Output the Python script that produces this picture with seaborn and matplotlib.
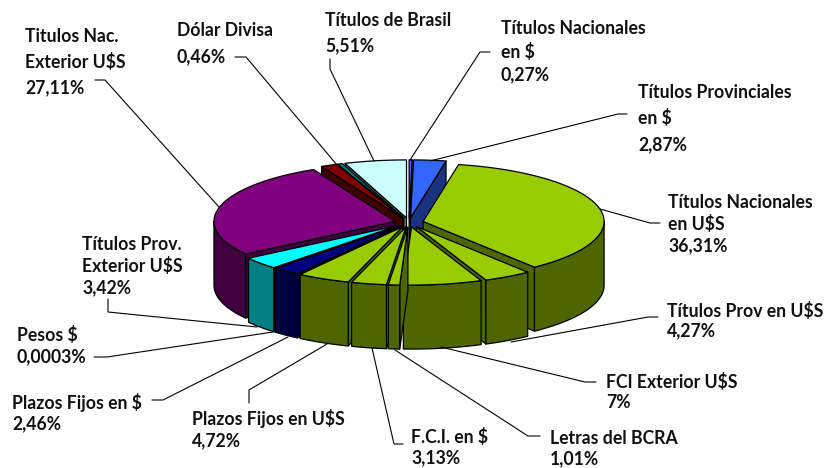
import numpy as np
import matplotlib
matplotlib.use("Agg")
import matplotlib.pyplot as plt
from matplotlib.patches import Polygon
import seaborn as sns

# ---- data (clockwise from 12 o'clock) ----
names = ["Títulos Nacionales\nen $\n0,27%", "Títulos Provinciales\nen $\n2,87%",
         "Títulos Nacionales\nen U$S\n36,31%", "Títulos Prov en U$S\n4,27%",
         "FCI Exterior U$S\n7%", "Letras del BCRA\n1,01%", "F.C.I. en $\n3,13%",
         "Plazos Fijos en U$S\n4,72%", "Plazos Fijos en $\n2,46%", "Pesos $\n0,0003%",
         "Títulos Prov.\nExterior U$S\n3,42%", "Titulos Nac.\nExterior U$S\n27,11%",
         "", "Dólar Divisa\n0,46%", "Títulos de Brasil\n5,51%"]
values = [0.27, 2.87, 36.31, 4.27, 7.0, 1.01, 3.13, 4.72, 2.46, 0.0003, 3.42, 27.11, 1.46, 0.46, 5.51]
top_colors = ["#3366FF", "#3366FF", "#99CC00", "#99CC00", "#99CC00", "#99CC00", "#99CC00", "#99CC00",
              "#000080", "#800080", "#00FFFF", "#800080", "#800000", "#008080", "#CCFFFF"]
side_colors = ["#1A3380", "#1A3380", "#4D6600", "#4D6600", "#4D6600", "#4D6600", "#4D6600", "#4D6600",
               "#000040", "#400040", "#008080", "#400040", "#400000", "#004040", "#668080"]

# ---- layout ----
CX, CY, RX, RY, DEPTH, EXPLODE = 409.0, 222.5, 181.0, 58.0, 64.0, 0.08
label_xy = [(501, 28, 23.5), (638, 92, 26.5), (668, 202, 22), (667, 311, 20), (606, 382, 21), (550, 438, 21),
            (411, 437, 21), (192, 418, 23), (12, 402, 22), (17, 335, 22), (82, 245, 21.5), (25, 36, 26),
            None, (177, 31, 26), (325, 21, 25)]
leaders = [[(490, 52), (480, 52), (410, 160)], [(627, 114), (618, 114), (430, 161)],
           [(660, 223), (650, 223), (600, 209)], [(658, 317), (648, 317), (511, 342)],
           [(596, 382), (585, 382), (441, 347)], [(540, 436), (528, 436), (395, 350)],
           [(403, 444), (394, 444), (372, 348)], [(249, 403), (249, 390), (327, 344)],
           [(152, 400), (163, 400), (288, 337)], [(94, 357), (107, 357), (273, 332)],
           [(108, 299), (108, 312), (257, 327)], [(95, 80), (105, 80), (219, 207)],
           None, [(235, 57), (246, 57), (337, 165)], [(330, 59), (330, 69), (374, 161)]]

sns.set_theme(style="white")
plt.rcParams["font.family"] = ["Lato", "DejaVu Sans"]
fig = plt.figure(figsize=(8.28, 4.68), dpi=100, facecolor="white")
ax = fig.add_axes([0, 0, 1, 1])
ax.set_xlim(0, 828)
ax.set_ylim(468, 0)
ax.set_axis_off()

fractions = np.asarray(values) / np.sum(values)
ends = np.cumsum(fractions) * 2 * np.pi
starts = ends - fractions * 2 * np.pi
mids = (starts + ends) / 2
EDGE = dict(edgecolor="black", linewidth=0.9, joinstyle="round")


def rim(t, ox, oy, down=0.0):
    return np.column_stack([ox + RX * np.sin(t), oy - RY * np.cos(t) + down])


for i in np.argsort(-np.cos(mids)):
    t0, t1, tm = starts[i], ends[i], mids[i]
    ox = CX + EXPLODE * RX * np.sin(tm)
    oy = CY - EXPLODE * RY * np.cos(tm)
    apex = np.array([[ox, oy]])
    # radial walls facing the viewer
    for t, show in ((t1, t1 < np.pi), (t0, t0 > np.pi)):
        if show:
            p = rim(np.array([t]), ox, oy)
            quad = np.vstack([apex, p, p + [0, DEPTH], apex + [0, DEPTH]])
            ax.add_patch(Polygon(quad, closed=True, facecolor=side_colors[i], **EDGE))
    # outer rim, front half only
    a, b = max(t0, np.pi / 2), min(t1, 3 * np.pi / 2)
    if b > a:
        ts = np.linspace(a, b, 60)
        arc = rim(ts, ox, oy)
        ax.add_patch(Polygon(np.vstack([arc, (arc + [0, DEPTH])[::-1]]), closed=True,
                             facecolor=side_colors[i], **EDGE))
    # top face
    ts = np.linspace(t0, t1, max(3, int(200 * fractions[i]) + 3))
    ax.add_patch(Polygon(np.vstack([apex, rim(ts, ox, oy)]), closed=True, facecolor=top_colors[i], **EDGE))

for name, xy, lead in zip(names, label_xy, leaders):
    if lead is not None:
        ax.plot(*zip(*lead), color="black", lw=0.8, solid_joinstyle="miter", zorder=5)
    if xy is not None:
        x, y, step = xy
        for k, line in enumerate(name.split("\n")):
            ax.text(x, y + k * step, line, ha="left", va="center", fontsize=12.7,
                    fontweight="bold", color="#111111", zorder=6)

fig.savefig("out.png", dpi=100, facecolor="white")
